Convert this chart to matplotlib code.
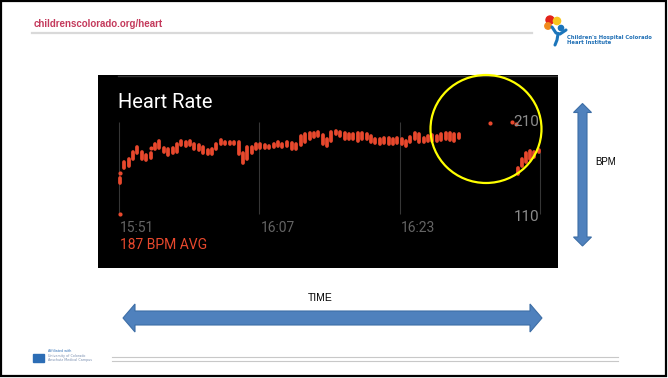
import matplotlib.pyplot as plt
from matplotlib.patches import Ellipse, Polygon, Circle, Rectangle
import numpy as np

# heart rate samples: minutes after 15:51, min/max bpm of each sample bar
minutes = [0.1, 0.6, 1.1, 1.6, 2.1, 2.6, 3.1, 3.6, 4.1, 4.6, 5.1, 5.6, 6.1, 6.6,
           7.1, 7.6, 8.1, 8.6, 9.1, 9.6, 10.1, 10.6, 11.1, 11.6, 12.1, 12.6,
           13.1, 13.7, 14.1, 14.6, 15.1, 15.6, 16.1, 16.6, 17.1, 17.6, 18.1,
           18.6, 19.1, 19.7, 20.2, 20.7, 21.2, 21.7, 22.2, 22.7, 23.2, 23.7,
           24.2, 24.7, 25.2, 25.7, 26.2, 26.7, 27.2, 27.7, 28.2, 28.7, 29.2,
           29.7, 30.2, 30.7, 31.2, 31.7, 32.2, 32.7, 33.2, 33.7, 34.2, 34.7,
           35.2, 35.7, 36.2, 36.7, 37.2, 37.7, 38.2, 38.7,
           45.4, 45.9, 46.3, 46.8, 47.3, 47.8]
bpm_low = [144, 160, 162, 170, 177, 170, 169, 171, 181, 182, 178, 174, 177, 178,
           185, 184, 185, 181, 180, 177, 176, 176, 181, 186, 186, 186,
           186, 176, 166, 170, 177, 181, 182, 182, 182, 183, 184,
           183, 184, 181, 181, 185, 189, 192, 194, 195, 186, 184,
           190, 197, 195, 192, 192, 192, 190, 192, 192, 189, 188,
           187, 188, 187, 187, 188, 187, 184, 189, 192, 189, 189,
           190, 190, 190, 191, 192, 191, 190, 193,
           154, 162, 167, 170, 172, 178]
bpm_high = [149, 167, 170, 178, 183, 178, 174, 177, 187, 190, 182, 181, 182, 187,
            190, 189, 190, 187, 185, 183, 180, 181, 187, 191, 189, 189,
            189, 189, 177, 183, 183, 187, 186, 185, 184, 187, 189,
            187, 189, 188, 187, 195, 197, 198, 199, 200, 196, 192,
            200, 201, 200, 199, 197, 197, 198, 198, 197, 195, 192,
            192, 193, 193, 192, 193, 192, 190, 194, 198, 197, 193,
            195, 196, 195, 197, 198, 199, 197, 197,
            160, 170, 177, 179, 178, 180]

# single readings
dot_minutes = [0.1, 0.1, 3.6, 42.3, 44.8, 45.25]
dot_bpm = [110, 155, 182, 209, 210, 208]

tick_minutes = [0, 16, 32]
tick_labels = ['15:51', '16:07', '16:23']
avg_bpm = 187
y_labels = [210, 110]

RED = '#e8482d'
GREY_TXT = '#646464'
BLUE = '#4f81bd'

fig = plt.figure(figsize=(6.68, 3.78), dpi=100)

# slide background in pixel units
bg = fig.add_axes([0, 0, 1, 1])
bg.set_xlim(0, 668)
bg.set_ylim(378, 0)
bg.axis('off')

bg.add_patch(Rectangle((1, 1), 665, 375, fill=False, ec='black', lw=1.6))
bg.text(34, 24, 'childrenscolorado.org/heart', color='#c43a5c', fontsize=7,
        fontweight='bold', family='Liberation Sans', va='center')
bg.plot([32, 532], [33, 33], color='#d9d9d9', lw=1.6)

# hospital logo
bg.add_patch(Circle((550, 20), 4, color='#e2231a'))
bg.add_patch(Circle((557, 21), 3.6, color='#f7c51e'))
bg.add_patch(Circle((548, 26), 3.2, color='#f08a1d'))
bg.add_patch(Circle((561, 28), 2.6, color='#1b75bb'))
bg.plot([552, 556, 560, 566], [27, 33, 34, 30], color='#1b75bb', lw=2.2,
        solid_capstyle='round')
bg.plot([558, 557, 555], [34, 40, 45], color='#1b75bb', lw=2.2,
        solid_capstyle='round')
bg.text(567, 37, "Children's Hospital Colorado", color='#1f6fb5', fontsize=3.8,
        fontweight='bold', va='center')
bg.text(567, 42.5, 'Heart Institute', color='#1f6fb5', fontsize=3.8,
        fontweight='bold', va='center')

# footer
bg.add_patch(Rectangle((33, 354), 11, 8, color='#2c6db5'))
bg.text(48, 351, 'Affiliated with', fontsize=2.4, color='#2c6db5', va='center')
bg.text(48, 355.5, 'University of Colorado', fontsize=2.4, color='#7a8fb0', va='center')
bg.text(48, 359.5, 'Anschutz Medical Campus', fontsize=2.4, color='#7a8fb0', va='center')
bg.plot([112, 618], [357, 357], color='#c8c8c8', lw=0.8)
bg.plot([112, 618], [361, 361], color='#c8c8c8', lw=0.8)


def double_arrow(x0, y0, x1, y1, half_shaft, half_head, head_len):
    v = np.array([x1 - x0, y1 - y0], dtype=float)
    L = np.hypot(*v)
    u = v / L
    n = np.array([-u[1], u[0]])
    p0 = np.array([x0, y0], dtype=float)
    pts = [p0,
           p0 + u * head_len + n * half_head,
           p0 + u * head_len + n * half_shaft,
           p0 + u * (L - head_len) + n * half_shaft,
           p0 + u * (L - head_len) + n * half_head,
           p0 + u * L,
           p0 + u * (L - head_len) - n * half_head,
           p0 + u * (L - head_len) - n * half_shaft,
           p0 + u * head_len - n * half_shaft,
           p0 + u * head_len - n * half_head]
    return Polygon(pts, closed=True, fc=BLUE, ec='#3d6ea6', lw=0.8)


bg.add_patch(double_arrow(582.5, 103.5, 582.5, 246, 4.5, 9, 9))
bg.add_patch(double_arrow(123, 318, 542, 318, 7, 14, 12))
bg.text(595, 162, 'BPM', fontsize=7, va='center', family='Liberation Sans')
bg.text(320, 298, 'TIME', fontsize=7.5, ha='center', va='center',
        family='Liberation Sans')

# the watch screen
ax = fig.add_axes([98 / 668, 110 / 378, 460 / 668, 193 / 378])
ax.set_facecolor('black')
ax.set_xlim(-2.39, 50.0)
ax.set_ylim(51, 261.9)
ax.set_xticks([])
ax.set_yticks([])
for s in ax.spines.values():
    s.set_visible(False)

ax.plot([-0.1, 50], [260.3, 260.3], color='#333333', lw=1)
ax.vlines(tick_minutes, 110, 210, color='#363636', lw=0.8)
ax.vlines(48.0, 110, 178, color='#363636', lw=0.8)

ax.vlines(minutes, bpm_low, bpm_high, color=RED, lw=2.7, capstyle='round', zorder=3)
ax.scatter(dot_minutes, dot_bpm, s=9, color=RED, lw=0, zorder=3)

ax.text(-0.11, 231.5, 'Heart Rate', color='white', fontsize=14.5,
        family='Roboto', va='center')
for m, lab in zip(tick_minutes, tick_labels):
    ax.text(m + 0.15, 95, lab, color=GREY_TXT, fontsize=10, family='Roboto',
            va='center')
ax.text(0.1, 76, f'{avg_bpm} BPM AVG', color=RED, fontsize=10, family='Roboto',
        va='center')
for v, y in zip(y_labels, [210, 107]):
    ax.text(47.9, y, str(v), color='#8c8c8c', fontsize=11, family='Roboto',
            ha='right', va='center', zorder=4)

ax.add_patch(Ellipse((41.8, 202.9), 12.64, 118, fill=False, ec='#ffff00',
                     lw=1.6, clip_on=False, zorder=5))

fig.savefig('out.png', dpi=100)
